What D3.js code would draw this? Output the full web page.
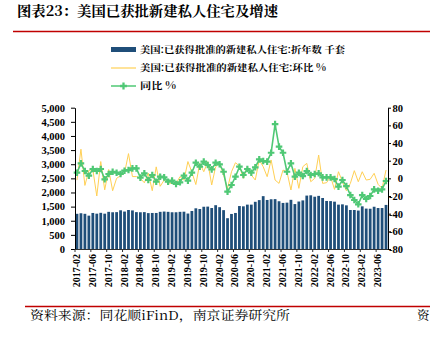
<!DOCTYPE html>
<html><head><meta charset="utf-8">
<script src="https://cdn.jsdelivr.net/npm/d3@7"></script>
<style>body{margin:0;background:#fff}svg{display:block}</style>
</head><body>
<script>
const months = [
"2017-02","2017-03","2017-04","2017-05","2017-06","2017-07","2017-08","2017-09","2017-10","2017-11","2017-12",
"2018-01","2018-02","2018-03","2018-04","2018-05","2018-06","2018-07","2018-08","2018-09","2018-10","2018-11","2018-12",
"2019-01","2019-02","2019-03","2019-04","2019-05","2019-06","2019-07","2019-08","2019-09","2019-10","2019-11","2019-12",
"2020-01","2020-02","2020-03","2020-04","2020-05","2020-06","2020-07","2020-08","2020-09","2020-10","2020-11","2020-12",
"2021-01","2021-02","2021-03","2021-04","2021-05","2021-06","2021-07","2021-08","2021-09","2021-10","2021-11","2021-12",
"2022-01","2022-02","2022-03","2022-04","2022-05","2022-06","2022-07","2022-08","2022-09","2022-10","2022-11","2022-12",
"2023-01","2023-02","2023-03","2023-04","2023-05","2023-06","2023-07","2023-08"];

// 已获得批准的新建私人住宅:折年数 (千套)
const permits = [
1245,1265,1245,1180,1275,1250,1280,1250,1315,1300,1305,
1370,1325,1380,1365,1305,1300,1305,1270,1275,1275,1315,1325,
1315,1300,1300,1315,1320,1255,1345,1440,1415,1495,1500,1450,
1550,1480,1375,1090,1240,1275,1520,1510,1570,1570,1670,1730,
1870,1735,1760,1765,1690,1630,1640,1740,1590,1680,1720,1890,
1900,1850,1880,1805,1700,1695,1675,1570,1580,1545,1380,1380,
1360,1510,1430,1425,1495,1450,1450,1560];

// 环比 %
const momPct = [
-2,33,-8,9,10,-20,19,-13,10,-14,0,
3,6,28,2,2,0,-5,6,-14,13,-9,-2,
-5,-6,-6,2,-2,19,7,-7,17,7.5,18.9,-7.5,
13.2,17,3.8,-11.3,7.5,17.7,14,0,13.2,3.8,-1.9,20.8,
13.2,1.9,20.8,-1.9,-5.7,9.4,7.5,-13.2,11.3,-11.3,13.2,17,
-3.8,0,26.4,-5.7,-4.9,1.9,-12.5,7.5,-3.8,-14,-5.7,8.7,
-3.8,7.5,-1.9,-1.1,5.7,-6.8,-11.3,9.4];

// 同比 %
const yoyPct = [
6.4,17,8.3,3,10.6,8.3,10.6,-1.1,4.9,7.5,6.4,
4.9,8.7,9.4,11.3,11.3,0.8,5.7,-1.9,3.8,-3.8,1.9,1.1,
-3.8,-2.6,-6.4,-4.5,3,-2.6,6.4,17.7,13.2,18.9,15.1,10.2,
17.7,15.9,7.5,-15.1,-7.5,1.9,13.2,3.8,10.6,6.4,12.5,21.5,
19.6,18.9,29,61.5,35.9,29,7.5,17,1.9,6.4,2.6,8.3,
3.8,4.9,5.7,1.1,1.1,1.1,-0.8,-9.4,-1.9,-8.7,-18.9,-24.5,
-29.4,-18.9,-23.4,-20,-12.5,-14,-12.5,-3];

const xTickLabels = ["2017-02","2017-06","2017-10","2018-02","2018-06","2018-10","2019-02","2019-06","2019-10",
"2020-02","2020-06","2020-10","2021-02","2021-06","2021-10","2022-02","2022-06","2022-10","2023-02","2023-06"];
const leftTicks = [0,500,1000,1500,2000,2500,3000,3500,4000,4500,5000];
const rightTicks = [-80,-60,-40,-20,0,20,40,60,80];

const titleText = "图表23：美国已获批新建私人住宅及增速";
const legendLabels = ["美国:已获得批准的新建私人住宅:折年数 千套","美国:已获得批准的新建私人住宅:环比 %","同比 %"];
const sourceText = "资料来源：同花顺iFinD，南京证券研究所";

const W = 430, H = 338;
const L = 75, R = 388, T = 107.7, B = 249;
const BAR = "#1F4E79", YEL = "#FFD055", GRN = "#4FC875", RED = "#C00000";
const cjk = "'Noto Serif CJK SC','Noto Sans CJK SC',sans-serif";
const num = "'Liberation Serif','Times New Roman',serif";

const svg = d3.select("body").append("svg").attr("width", W).attr("height", H);

// title
svg.append("text").attr("x", 17).attr("y", 15.5).text(titleText)
  .attr("font-family", cjk).attr("font-size", 14).attr("font-weight", 700)
  .attr("textLength", 261).attr("lengthAdjust", "spacingAndGlyphs").attr("fill", "#000");
svg.append("line").attr("x1", 13).attr("x2", 430).attr("y1", 31.5).attr("y2", 31.5)
  .attr("stroke", RED).attr("stroke-width", 1.5);

// legend
const lg = svg.append("g");
lg.append("rect").attr("x", 111).attr("y", 47).attr("width", 25).attr("height", 5).attr("fill", BAR);
lg.append("line").attr("x1", 111).attr("x2", 136).attr("y1", 68).attr("y2", 68).attr("stroke", YEL).attr("stroke-width", 1.2);
lg.append("line").attr("x1", 111).attr("x2", 136).attr("y1", 86).attr("y2", 86).attr("stroke", GRN).attr("stroke-width", 1.5);
lg.append("path").attr("d", d3.symbol(d3.symbolCross, 26)()).attr("transform", "translate(123.5,86)").attr("fill", GRN);
const lgY = [49.5, 68, 86], lgW = [205, 186, 36];
legendLabels.forEach((t, i) => {
  lg.append("text").attr("x", 140).attr("y", lgY[i]).attr("dy", "0.35em").text(t)
    .attr("font-family", cjk).attr("font-size", 9.5).attr("font-weight", 700)
    .attr("textLength", lgW[i]).attr("lengthAdjust", "spacingAndGlyphs").attr("fill", "#000");
});

// scales
const x = d3.scaleBand().domain(months).range([L, R]).padding(0);
const bw = x.bandwidth();
const yL = d3.scaleLinear().domain([0, 5000]).range([B, T]);
const yR = d3.scaleLinear().domain([-80, 80]).range([B, T]);
const cx = d => x(d) + bw / 2;

// bars
svg.append("g").selectAll("rect").data(months).join("rect")
  .attr("x", d => x(d) + bw * 0.15).attr("width", bw * 0.7)
  .attr("y", (d, i) => yL(permits[i])).attr("height", (d, i) => B - yL(permits[i]))
  .attr("fill", BAR);

// yellow MoM line
svg.append("path").datum(momPct)
  .attr("d", d3.line().x((d, i) => cx(months[i])).y(d => yR(d)))
  .attr("fill", "none").attr("stroke", YEL).attr("stroke-width", 1);

// green YoY line
svg.append("path").datum(yoyPct)
  .attr("d", d3.line().x((d, i) => cx(months[i])).y(d => yR(d)))
  .attr("fill", "none").attr("stroke", GRN).attr("stroke-width", 1.6);
svg.append("g").selectAll("path").data(yoyPct).join("path")
  .attr("d", d3.symbol(d3.symbolCross, 24)())
  .attr("transform", (d, i) => `translate(${cx(months[i])},${yR(d)})`)
  .attr("fill", GRN);

// left axis
const ax = svg.append("g").attr("transform", `translate(${L},0)`)
  .call(d3.axisLeft(yL).tickValues(leftTicks).tickFormat(d3.format(",")).tickSize(4).tickPadding(6).tickSizeOuter(0));
ax.selectAll("text").attr("font-family", num).attr("font-size", 10.5).attr("font-weight", 700).attr("fill", "#000");
ax.selectAll("line,path").attr("stroke", "#000");

// right axis
const ar = svg.append("g").attr("transform", `translate(${R},0)`)
  .call(d3.axisRight(yR).tickValues(rightTicks).tickFormat(d => String(d)).tickSize(3).tickPadding(12).tickSizeOuter(0));
ar.selectAll("text").attr("font-family", num).attr("font-size", 10.5).attr("font-weight", 700)
  .attr("fill", "#000").attr("text-anchor", "end");
ar.selectAll("line,path").attr("stroke", "#000");

// bottom axis
const xb = svg.append("g");
xb.append("line").attr("x1", L).attr("x2", R).attr("y1", B + 0.5).attr("y2", B + 0.5).attr("stroke", "#333");
xb.selectAll("line.tk").data(xTickLabels).join("line").attr("class", "tk")
  .attr("x1", d => x(d)).attr("x2", d => x(d)).attr("y1", B).attr("y2", B + 3).attr("stroke", "#333");
xb.selectAll("text").data(xTickLabels).join("text")
  .attr("transform", d => `translate(${x(d) + 1.5},${B + 5}) rotate(-90)`)
  .attr("text-anchor", "end").attr("dy", "0.35em").text(d => d)
  .attr("font-family", num).attr("font-size", 10).attr("font-weight", 700).attr("fill", "#000");

// source
svg.append("line").attr("x1", 25).attr("x2", 430).attr("y1", 306.5).attr("y2", 306.5)
  .attr("stroke", RED).attr("stroke-width", 1.5);
svg.append("text").attr("x", 30).attr("y", 315).attr("dy", "0.38em").text(sourceText)
  .attr("font-family", cjk).attr("font-size", 12.5).attr("textLength", 260).attr("lengthAdjust", "spacingAndGlyphs").attr("fill", "#000");
svg.append("text").attr("x", 417).attr("y", 315).attr("dy", "0.38em").text("资")
  .attr("font-family", cjk).attr("font-size", 12.5).attr("fill", "#000");
</script>
</body></html>
